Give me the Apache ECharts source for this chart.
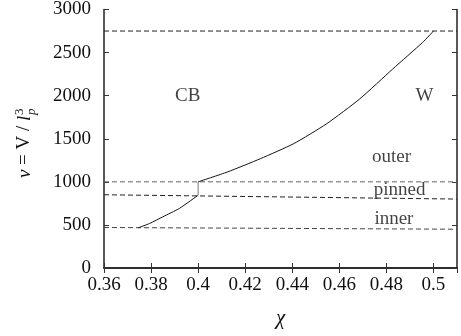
<!DOCTYPE html>
<html>
<head>
<meta charset="utf-8">
<script src="https://cdn.jsdelivr.net/npm/echarts@6/dist/echarts.min.js"></script>
<style>
  html, body { margin: 0; padding: 0; background: #fff; }
  #chart { width: 461px; height: 336px; }
</style>
</head>
<body>
<div id="chart"></div>
<script>
// curve below the jump (inner -> pinned)
var innerCurve = [[0.3745, 466], [0.3794, 517], [0.385, 594], [0.392, 691], [0.4, 845]];
// vertical jump at chi = 0.4
var jumpLine = [[0.4, 845], [0.4, 1000]];
// curve above the jump (outer)
var outerCurve = [[0.4, 1000], [0.4124, 1114], [0.4265, 1269], [0.4406, 1443],
  [0.4546, 1674], [0.4687, 1963], [0.4827, 2310], [0.4954, 2618], [0.5, 2750]];
// dashed boundary lines
var topLine = [[0.36, 2750], [0.51, 2750]];
var outerLine = [[0.36, 1000], [0.51, 1000]];
var pinnedLine = [[0.36, 850], [0.51, 800]];
var innerLine = [[0.36, 470], [0.51, 450]];
// region labels
var regionNames = ["CB", "W", "outer", "pinned", "inner"];
var regionPos = [[0.3956, 2000], [0.4962, 2000], [0.4822, 1290], [0.4856, 900], [0.4832, 570]];

var xMin = 0.36, xMax = 0.51, xStep = 0.02;
var yMin = 0, yMax = 3000, yStep = 500;

var font = "Liberation Serif";
var ink = "#111";
var chart = echarts.init(document.getElementById("chart"));

var axisCommon = {
  axisLine: { lineStyle: { color: "#222", width: 1.5 } },
  axisTick: { inside: true, length: 5, lineStyle: { color: "#333" } },
  splitLine: { show: false }
};

function dashed(data, color) {
  return {
    type: "line", data: data, symbol: "none", silent: true,
    lineStyle: { color: color, width: 1, type: [5, 3] }
  };
}

chart.setOption({
  animation: false,
  textStyle: { fontFamily: font },
  grid: { left: 104, right: 4, top: 9, bottom: 68 },
  xAxis: [
    Object.assign({
      type: "value", min: xMin, max: xMax, interval: xStep,
      name: "χ", nameLocation: "middle", nameGap: 40,
      nameTextStyle: { fontFamily: font, fontSize: 21, fontStyle: "italic", color: ink },
      axisLabel: {
        fontFamily: font, fontSize: 19, color: ink, margin: 8, showMaxLabel: false,
        formatter: function (v) { return Math.abs(v - xMax) < 1e-9 ? "" : String(+v.toFixed(2)); }
      }
    }, axisCommon),
    Object.assign({
      type: "value", min: xMin, max: xMax, interval: xStep, position: "top",
      axisLabel: { show: false }
    }, axisCommon)
  ],
  yAxis: [
    Object.assign({
      type: "value", min: yMin, max: yMax, interval: yStep,
      axisLabel: {
        fontFamily: font, fontSize: 19, color: ink, margin: 13,
        formatter: function (v) { return String(v); }
      }
    }, axisCommon),
    Object.assign({
      type: "value", min: yMin, max: yMax, interval: yStep, position: "right",
      axisLabel: { show: false }
    }, axisCommon)
  ],
  graphic: [{
    type: "group", x: 34, y: 178, rotation: Math.PI / 2,
    children: [
      { type: "text", x: 0, y: 0, style: { text: "v", font: "italic 19px " + font, fill: ink, textVerticalAlign: "bottom" } },
      { type: "text", x: 13, y: 0, style: { text: "= V /", font: "19px " + font, fill: ink, textVerticalAlign: "bottom" } },
      { type: "text", x: 57, y: 0, style: { text: "l", font: "italic 19px " + font, fill: ink, textVerticalAlign: "bottom" } },
      { type: "text", x: 63, y: 4, style: { text: "p", font: "italic 13px " + font, fill: ink, textVerticalAlign: "bottom" } },
      { type: "text", x: 63, y: -8, style: { text: "3", font: "13px " + font, fill: ink, textVerticalAlign: "bottom" } }
    ]
  }],
  series: [
    dashed(topLine, "#222"),
    dashed(outerLine, "#666"),
    dashed(pinnedLine, "#222"),
    dashed(innerLine, "#444"),
    {
      type: "line", data: innerCurve, symbol: "none", smooth: 0.2,
      lineStyle: { color: "#111", width: 1 }
    },
    {
      type: "line", data: jumpLine, symbol: "none",
      lineStyle: { color: "#777", width: 1 }
    },
    {
      type: "line", data: outerCurve, symbol: "none", smooth: 0.2,
      lineStyle: { color: "#111", width: 1 }
    },
    {
      type: "scatter", symbolSize: 0, silent: true,
      data: regionNames.map(function (n, i) { return { name: n, value: regionPos[i] }; }),
      label: {
        show: true, position: "inside", formatter: "{b}",
        fontFamily: font, fontSize: 19, color: ink
      }
    }
  ]
});
</script>
</body>
</html>
